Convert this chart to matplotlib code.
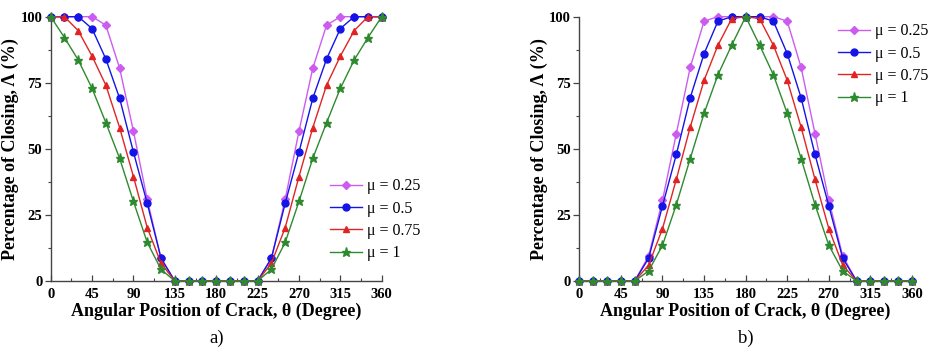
import matplotlib
matplotlib.use("Agg")
import matplotlib.pyplot as plt
from matplotlib.ticker import MultipleLocator

plt.rcParams["font.family"] = ["Liberation Serif", "DejaVu Serif"]
plt.rcParams["mathtext.fontset"] = "stix"

theta = list(range(0, 361, 15))
mu_labels = ["μ = 0.25", "μ = 0.5", "μ = 0.75", "μ = 1"]

# (a) closing percentage versus crack position
a_mu025 = [100, 100, 100, 100, 96.8, 80.5, 56.7, 30.9, 8.6, 0, 0, 0, 0, 0, 0, 0,
           8.6, 30.9, 56.7, 80.5, 96.8, 100, 100, 100, 100]
a_mu05 = [100, 100, 100, 95.5, 84.0, 69.1, 48.8, 29.4, 8.6, 0, 0, 0, 0, 0, 0, 0,
          8.6, 29.4, 48.8, 69.1, 84.0, 95.5, 100, 100, 100]
a_mu075 = [100, 100, 94.7, 85.1, 74.1, 58.0, 39.5, 20.2, 6.7, 0, 0, 0, 0, 0, 0, 0,
           6.7, 20.2, 39.5, 58.0, 74.1, 85.1, 94.7, 100, 100]
a_mu1 = [100, 92.1, 83.6, 72.9, 59.9, 46.4, 30.1, 14.6, 4.4, 0, 0, 0, 0, 0, 0, 0,
         4.4, 14.6, 30.1, 46.4, 59.9, 72.9, 83.6, 92.1, 100]

# (b) closing percentage versus crack position
b_mu025 = [0, 0, 0, 0, 0, 9.5, 30.5, 55.8, 80.8, 98.3, 100, 100, 100, 100, 100, 98.3,
           80.8, 55.8, 30.5, 9.5, 0, 0, 0, 0, 0]
b_mu05 = [0, 0, 0, 0, 0, 8.6, 28.4, 47.9, 69.3, 86.0, 98.3, 100, 100, 100, 98.3, 86.0,
          69.3, 47.9, 28.4, 8.6, 0, 0, 0, 0, 0]
b_mu075 = [0, 0, 0, 0, 0, 6.0, 19.8, 38.5, 58.2, 75.9, 89.2, 99.3, 100, 99.3, 89.2, 75.9,
           58.2, 38.5, 19.8, 6.0, 0, 0, 0, 0, 0]
b_mu1 = [0, 0, 0, 0, 0, 3.8, 13.5, 28.9, 46.3, 63.4, 78.0, 89.3, 100, 89.3, 78.0, 63.4,
         46.3, 28.9, 13.5, 3.8, 0, 0, 0, 0, 0]

colors = ["#CC5CF0", "#1414E6", "#E02424", "#2E8A2E"]
markers = ["D", "o", "^", "*"]
msizes = [4.0, 5.0, 5.0, 6.5]

fig = plt.figure(figsize=(9.38, 3.55), dpi=100)
ax_a = fig.add_axes([0.054, 0.2085, 0.353, 0.7445])
ax_b = fig.add_axes([0.6176, 0.2085, 0.3547, 0.7445])

panels = [
    (ax_a, [a_mu025, a_mu05, a_mu075, a_mu1], (0.843, 0.389), "a)"),
    (ax_b, [b_mu025, b_mu05, b_mu075, b_mu1], (0.778, 0.975), "b)"),
]

for ax, series, leg_anchor, tag in panels:
    for vals, c, m, ms, lab in zip(series, colors, markers, msizes, mu_labels):
        ax.plot(theta, vals, color=c, marker=m, markersize=ms, linewidth=1.0,
                label=lab, clip_on=False, zorder=3)
    ax.set_xlim(0, 360)
    ax.set_ylim(0, 100)
    ax.xaxis.set_major_locator(MultipleLocator(45))
    ax.xaxis.set_minor_locator(MultipleLocator(22.5))
    ax.yaxis.set_major_locator(MultipleLocator(25))
    ax.yaxis.set_minor_locator(MultipleLocator(12.5))
    for s in ["top", "right"]:
        ax.spines[s].set_visible(False)
    for s in ["left", "bottom"]:
        ax.spines[s].set_color("#444444")
        ax.spines[s].set_linewidth(1.0)
    ax.tick_params(axis="y", which="major", direction="out", length=4, width=0.9,
                   color="#444444", labelsize=10.5, pad=2)
    ax.tick_params(axis="y", which="minor", direction="out", length=2.5, width=0.8,
                   color="#444444")
    ax.tick_params(axis="x", which="major", direction="in", length=4, width=0.9,
                   color="#444444", labelsize=10.5, pad=5)
    ax.tick_params(axis="x", which="minor", direction="in", length=2.5, width=0.8,
                   color="#444444")
    for lbl in ax.get_xticklabels() + ax.get_yticklabels():
        lbl.set_fontweight("bold")
    ax.set_xlabel("Angular Position of Crack, θ (Degree)", fontsize=13,
                  fontweight="bold", labelpad=1)
    ax.set_ylabel("Percentage of Closing, Λ (%)", fontsize=13,
                  fontweight="bold", labelpad=1)
    leg = ax.legend(loc="upper left", bbox_to_anchor=leg_anchor, frameon=False,
                    fontsize=11.5, handlelength=2.0, handletextpad=0.3,
                    labelspacing=0.4, borderpad=0, borderaxespad=0)
    ax.text(0.5, -0.218, tag, transform=ax.transAxes, ha="center", va="center",
            fontsize=13.5)

fig.savefig("out.png", dpi=100)
